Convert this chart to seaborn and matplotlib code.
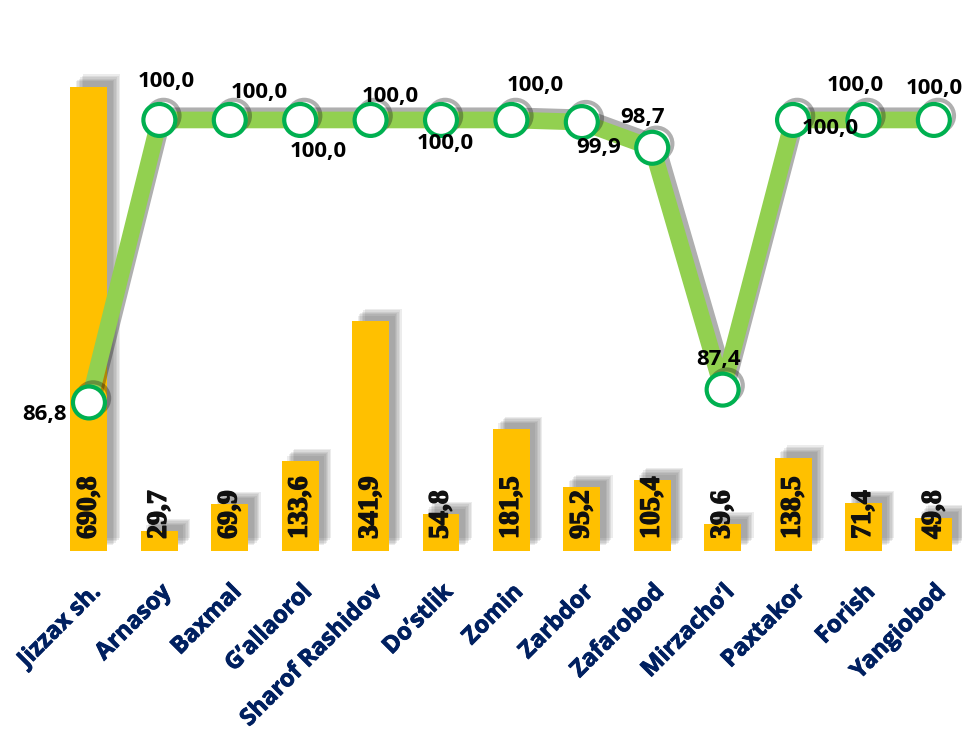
import numpy as np
import pandas as pd
import matplotlib
matplotlib.use('Agg')
import matplotlib.pyplot as plt
import matplotlib.patheffects as pe
import seaborn as sns

# data
districts = ['Jizzax sh.', 'Arnasoy', 'Baxmal', 'G\u2019allaorol', 'Sharof Rashidov',
             'Do\u2019stlik', 'Zomin', 'Zarbdor', 'Zafarobod', 'Mirzacho\u2019l',
             'Paxtakor', 'Forish', 'Yangiobod']
bar_vals = [690.8, 29.7, 69.9, 133.6, 341.9, 54.8, 181.5, 95.2, 105.4, 39.6, 138.5, 71.4, 49.8]
line_vals = [86.8, 100.0, 100.0, 100.0, 100.0, 100.0, 100.0, 99.9, 98.7, 87.4, 100.0, 100.0, 100.0]

# label offsets for the line values (points)
lbl_off = [(-32, -9), (5, 28), (21, 20), (13, -23), (14, 17), (3, -17), (17, 25),
           (12, -18), (-7, 22), (-3, 22), (27, -6), (-6, 25), (0, 23)]

df = pd.DataFrame({'district': districts, 'bar': bar_vals, 'line': line_vals,
                   'pos': np.arange(len(districts))})

sns.set_theme(style='white')
plt.rcParams['font.family'] = ['Open Sans', 'DejaVu Sans']

fig = plt.figure(figsize=(9.65, 7.33), dpi=100)
ax = fig.add_axes([0.0557, 0.2483, 0.9412, 0.6698])

sns.barplot(data=df, x='district', y='bar', color='#FFC000', saturation=1,
            width=0.525, ax=ax)

shadow = [pe.SimplePatchShadow(offset=(o, o), shadow_rgbFace='0.3', alpha=0.1)
          for o in (4, 5, 6, 7, 8, 9)] + [pe.Normal()]
for p in ax.patches:
    p.set_path_effects(shadow)
    p.set_edgecolor('none')

bold_serif = [pe.withStroke(linewidth=1.0, foreground='#111111')]
for i, v in enumerate(bar_vals):
    ax.text(i, 18, f'{v:.1f}'.replace('.', ','), rotation=90, ha='center', va='bottom',
            fontfamily='Liberation Serif', fontweight='bold', fontsize=20,
            color='#111111', zorder=5, path_effects=bold_serif)

ax.set_xlim(-0.5, 12.4)
ax.set_ylim(0, 730.7)
ax.set_xlabel('')
ax.set_ylabel('')
ax.set_yticks([])
ax.tick_params(axis='x', length=0, pad=21)
for lab in ax.get_xticklabels():
    lab.set_rotation(45)
    lab.set_ha('right')
    lab.set_va('top')
    lab.set_rotation_mode('anchor')
    lab.set_fontweight('bold')
    lab.set_fontsize(17)
    lab.set_color('#002060')
    lab.set_path_effects([pe.withStroke(linewidth=0.6, foreground='#002060')])
sns.despine(ax=ax, left=True, bottom=True)

ax2 = ax.twinx()
sns.lineplot(data=df, x='pos', y='line', ax=ax2, color='#92D050', linewidth=12,
             marker='o', markersize=23, markerfacecolor='white',
             markeredgecolor='#00B050', markeredgewidth=3,
             path_effects=[pe.SimpleLineShadow(offset=(3, 3), shadow_color='k', alpha=0.35),
                           pe.Normal()])
ax2.set_ylim(79.86, 102.8)
ax2.set_xlim(-0.5, 12.4)
ax2.set_yticks([])
ax2.set_xlabel('')
ax2.set_ylabel('')
sns.despine(ax=ax2, left=True, bottom=True, right=True)

for i, v in enumerate(line_vals):
    ax2.annotate(f'{v:.1f}'.replace('.', ','), (i, v), xytext=lbl_off[i],
                 textcoords='offset points', ha='center', va='center',
                 fontsize=16, fontweight='bold', color='black')

fig.savefig('out.png', dpi=100)
